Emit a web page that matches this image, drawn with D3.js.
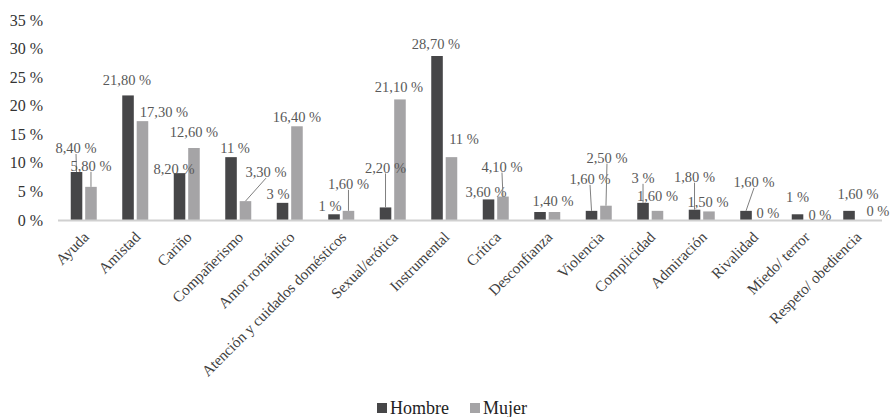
<!DOCTYPE html>
<html>
<head>
<meta charset="utf-8">
<script src="https://cdn.jsdelivr.net/npm/d3@7"></script>
<style>
  html, body { margin: 0; padding: 0; background: #fff; }
  svg, svg text { font-family: "Liberation Serif", "Times New Roman", serif; }
</style>
</head>
<body>
<svg id="chart" width="892" height="417"></svg>
<script>
// ---- data ----
const categories = ["Ayuda", "Amistad", "Cariño", "Compañerismo", "Amor romántico",
  "Atención y cuidados domésticos", "Sexual/erótica", "Instrumental", "Crítica",
  "Desconfianza", "Violencia", "Complicidad", "Admiración", "Rivalidad",
  "Miedo/ terror", "Respeto/ obediencia"];
const seriesNames = ["Hombre", "Mujer"];
const hombre = [8.4, 21.8, 8.2, 11, 3, 1, 2.2, 28.7, 3.6, 1.4, 1.6, 3, 1.8, 1.6, 1, 1.6];
const mujer  = [5.8, 17.3, 12.6, 3.3, 16.4, 1.6, 21.1, 11, 4.1, 1.4, 2.5, 1.6, 1.5, 0, 0, 0];
const yTicks = [0, 5, 10, 15, 20, 25, 30, 35];

// ---- label layout (pixel offsets of data labels from bar top, leader flag) ----
const hombreLabelLayout = [
  [-0.5, -24, true], [-1, -16, false], [-5.5, -4, false], [4, -9, false],
  [-4.5, -9, false], [-4, -8, false], [0, -40, true], [-1, -12, false],
  [-2.5, -8, false], [13, -11, false], [-1.5, -32, true], [0, -25, true],
  [0, -33, true], [8, -29, true], [0, -17, false], [9, -17, false]];
const mujerLabelLayout = [
  [0, -21, true], [21.5, -9, false], [0, -16, false], [20.5, -29, true],
  [0, -9, false], [0, -27, true], [-1, -13, false], [12.5, -18, false],
  [-1, -30, true], null, [1, -48, true], [0, -15, false],
  [-1, -10, false], [7.5, -7, false], [8, -5, false], [14.5, -9, false]];

const colors = { Hombre: "#464648", Mujer: "#a5a4a6" };
const FONT = '"Liberation Serif", "Times New Roman", serif';

const svg = d3.select("#chart");
const x0 = d3.scaleBand().domain(categories).range([58, 882]).padding(0);
const bw = x0.bandwidth();
const x1 = d3.scaleBand().domain(seriesNames).range([bw / 2 - 13, bw / 2 + 13]).paddingInner(0.2);
const y = d3.scaleLinear().domain([0, 35]).range([220, 20]);

// y axis (labels only)
const yAxis = svg.append("g")
  .attr("transform", "translate(58,0)")
  .call(d3.axisLeft(y).tickValues(yTicks).tickSize(0).tickPadding(15).tickFormat(d => d + " %"));
yAxis.attr("font-family", null).attr("font-size", null);
yAxis.select(".domain").remove();
yAxis.selectAll("text")
  .style("font-family", FONT)
  .attr("font-size", 16)
  .attr("fill", "#333");

const fmt = v => (Number.isInteger(v) ? String(v) : v.toFixed(2).replace(".", ",")) + " %";

const series = [
  { name: "Hombre", values: hombre, layout: hombreLabelLayout },
  { name: "Mujer", values: mujer, layout: mujerLabelLayout }
];

// bars
series.forEach(s => {
  svg.append("g").selectAll("rect")
    .data(categories.map((c, i) => ({ c, v: s.values[i] })))
    .join("rect")
    .attr("x", d => x0(d.c) + x1(s.name))
    .attr("y", d => y(d.v))
    .attr("width", x1.bandwidth())
    .attr("height", d => y(0) - y(d.v))
    .attr("fill", colors[s.name]);
});

// x axis line
svg.append("line")
  .attr("x1", x0.range()[0]).attr("x2", x0.range()[1])
  .attr("y1", y(0) + 0.5).attr("y2", y(0) + 0.5)
  .attr("stroke", "#d0d0d0").attr("stroke-width", 2);

// data labels with leaders
series.forEach(s => {
  const g = svg.append("g");
  categories.forEach((c, i) => {
    const lay = s.layout[i];
    if (!lay) return;
    const v = s.values[i];
    const bx = x0(c) + x1(s.name) + x1.bandwidth() / 2;
    const by = y(v);
    const lx = bx + lay[0], ly = by + lay[1];
    if (lay[2]) {
      g.append("line")
        .attr("x1", lx).attr("y1", ly + 6)
        .attr("x2", bx).attr("y2", by)
        .attr("stroke", "#7f7f7f").attr("stroke-width", 1);
    }
    g.append("text")
      .attr("x", lx).attr("y", ly)
      .attr("dy", "0.35em")
      .attr("text-anchor", "middle")
      .style("font-family", FONT)
      .attr("font-size", 14.5)
      .attr("fill", "#595959")
      .text(fmt(v));
  });
});

// category labels
svg.append("g").selectAll("text")
  .data(categories)
  .join("text")
  .attr("transform", d => `translate(${x0(d) + bw / 2 + 6},238) rotate(-45)`)
  .attr("text-anchor", "end")
  .style("font-family", FONT)
  .attr("font-size", 15.2)
  .attr("fill", "#404040")
  .text(d => d);

// legend
const legend = svg.append("g");
const legendX = [377, 470];
seriesNames.forEach((n, i) => {
  legend.append("rect")
    .attr("x", legendX[i]).attr("y", 403)
    .attr("width", 10).attr("height", 10)
    .attr("fill", colors[n]);
  legend.append("text")
    .attr("x", legendX[i] + 13).attr("y", 408)
    .attr("dy", "0.35em")
    .style("font-family", FONT)
    .attr("font-size", 18)
    .attr("fill", "#222")
    .text(n);
});
</script>
</body>
</html>
